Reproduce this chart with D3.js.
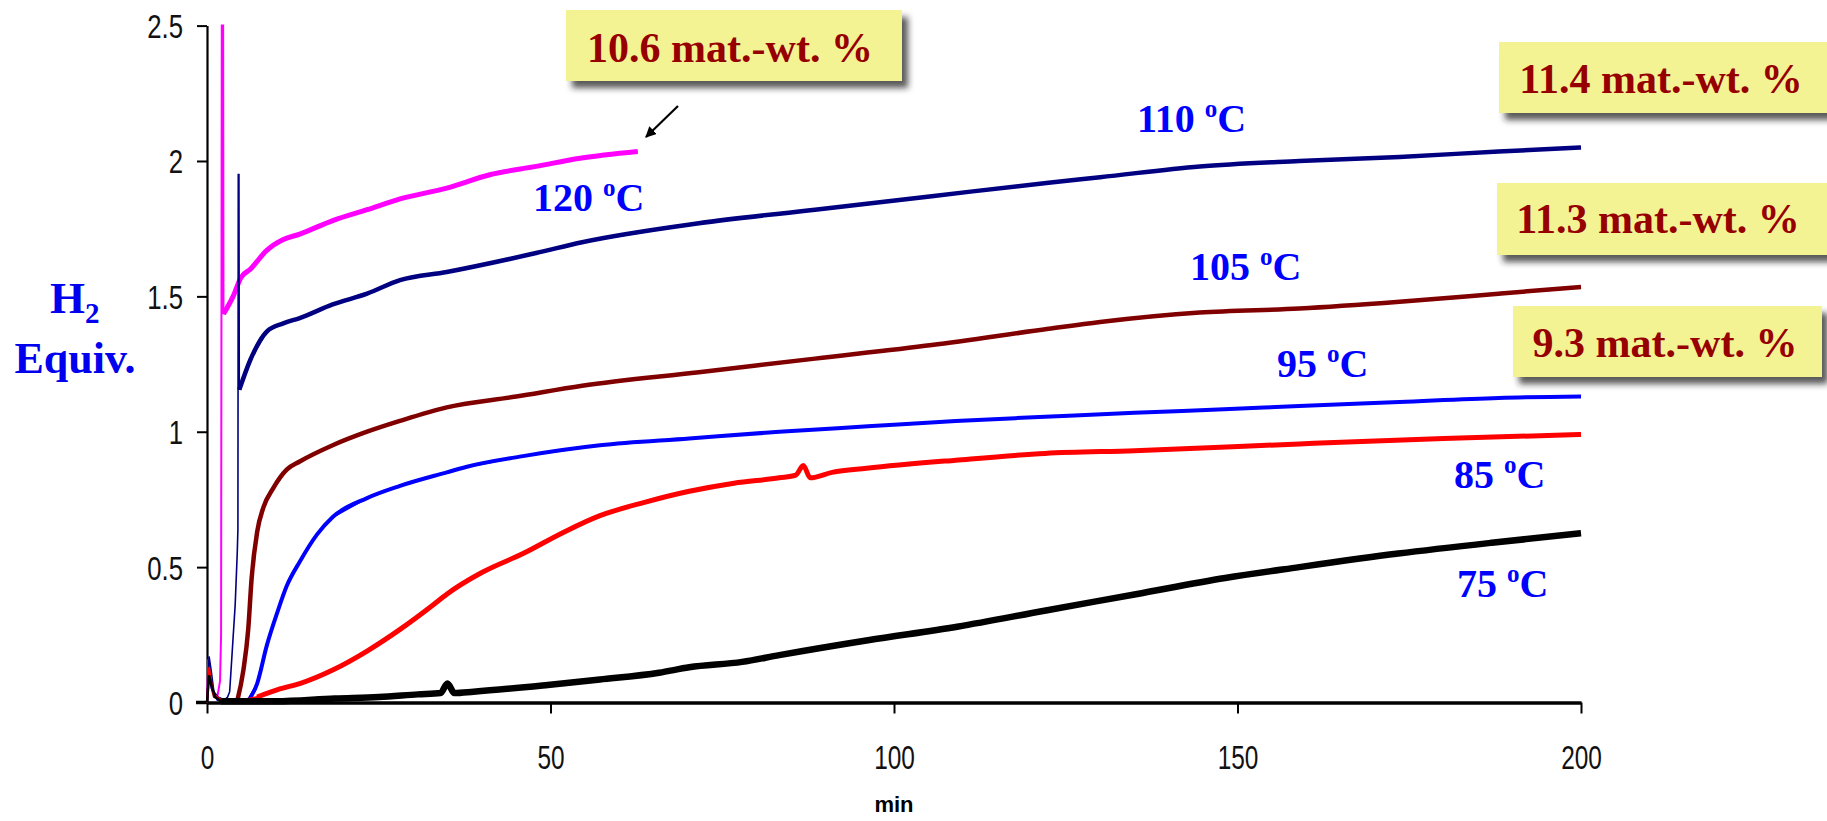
<!DOCTYPE html>
<html><head><meta charset="utf-8">
<script src="https://cdn.jsdelivr.net/npm/d3@7"></script>
<style>html,body{margin:0;padding:0;background:#fff;}svg{display:block;}</style>
</head><body>
<svg id="chart" width="1827" height="821"></svg>
<script>
// ---- data ----
const xTicks = [0, 50, 100, 150, 200];
const yTicks = [0, 0.5, 1, 1.5, 2, 2.5];
const yTickLabels = ["0", "0.5", "1", "1.5", "2", "2.5"];
const xLabel = "min";

const s120 = [[0,0],[0.2,0.16],[0.5,0.1],[0.9,0.04],[1.5,0.02],[1.9,0.08],[2.05,0.25],[2.15,2.5],[2.35,2.5],[2.4,1.435],[3.8,1.50],[4.95,1.57],[6.3,1.60],[8.7,1.67],[11.1,1.71],[13.5,1.73],[18.3,1.78],[23.3,1.82],[28.1,1.86],[34.9,1.90],[41.3,1.95],[47.9,1.98],[54.3,2.01],[62.7,2.035]];
const s110 = [[0,0],[0.3,0.17],[0.6,0.12],[1.0,0.04],[1.6,0.02],[2.5,0.01],[3.0,0.02],[3.3,0.04],[3.6,0.16],[3.8,0.24],[4.1,0.36],[4.4,0.55],[4.5,0.64],[4.55,1.95],[4.65,1.95],[4.7,1.155],[6.3,1.265],[8.7,1.37],[11.1,1.40],[13.5,1.42],[18.3,1.47],[23.3,1.51],[28.1,1.56],[34.9,1.59],[47.9,1.66],[54.6,1.70],[71.6,1.77],[88.5,1.82],[105.5,1.87],[122.5,1.92],[130,1.94],[144.5,1.98],[159,2.0],[173.6,2.015],[188,2.035],[200,2.05]];
const s105 = [[0,0],[0.3,0.1],[0.6,0.06],[1.0,0.02],[2,0.01],[3.5,0.005],[4.4,0.005],[5.3,0.12],[6.0,0.27],[6.5,0.46],[7.3,0.63],[8.2,0.72],[9.6,0.79],[11.6,0.86],[13.5,0.89],[18.3,0.95],[23.3,1.0],[28.1,1.04],[34.9,1.09],[45,1.13],[54.6,1.17],[71.6,1.22],[88.5,1.27],[105.5,1.32],[122.5,1.38],[130,1.405],[144.5,1.44],[159,1.455],[173.6,1.48],[188,1.51],[200,1.535]];
const s95 = [[0,0],[0.3,0.12],[0.7,0.05],[1.5,0.01],[4,0],[5.8,0],[7.3,0.07],[8.7,0.21],[10.2,0.33],[11.6,0.43],[13.5,0.52],[16,0.62],[18.3,0.685],[23.3,0.755],[28.1,0.80],[34.9,0.85],[37.7,0.87],[46,0.91],[57.2,0.95],[70.2,0.975],[83.3,1.0],[96.2,1.02],[109,1.04],[122,1.055],[135,1.07],[148,1.083],[159,1.095],[173.6,1.11],[188,1.125],[200,1.13]];
const s85 = [[0,0],[0.3,0.13],[0.6,0.08],[1.0,0.03],[2,0.01],[4,0.005],[7.3,0.02],[10.6,0.05],[13.5,0.07],[18.3,0.12],[23.3,0.19],[28.1,0.27],[32.9,0.36],[34.9,0.40],[40,0.48],[46,0.55],[52,0.63],[57.2,0.69],[63.8,0.74],[70.2,0.78],[76.7,0.81],[83.3,0.83],[85.7,0.84],[86.8,0.875],[87.8,0.83],[91,0.85],[96,0.865],[109,0.895],[122,0.92],[135,0.93],[159,0.955],[180,0.975],[200,0.99]];
const s75 = [[0,0],[0.3,0.1],[0.7,0.06],[1.2,0.02],[2,0.005],[10,0.005],[18.6,0.015],[25,0.02],[30.7,0.03],[34,0.035],[35,0.07],[36,0.035],[38.8,0.04],[49.6,0.065],[57.2,0.085],[65.8,0.11],[70.2,0.13],[77.9,0.15],[83.3,0.175],[96.2,0.23],[109.2,0.28],[122.1,0.34],[135.2,0.40],[148.2,0.46],[159,0.50],[173.4,0.55],[187,0.59],[200,0.625]];

const seriesNames = ["120 ºC", "110 ºC", "105 ºC", "95 ºC", "85 ºC", "75 ºC"];
const seriesData = [s120, s110, s105, s95, s85, s75];
const boxTexts = ["10.6 mat.-wt. %", "11.4 mat.-wt. %", "11.3 mat.-wt. %", "9.3 mat.-wt. %"];

// ---- styles / layout ----
const colors = ["#ff00ff", "#000080", "#800000", "#0000ff", "#ff0000", "#000000"];
const thinW = [2, 1.6, 2, 2, 2, 2.5];
const thickW = [5, 4.5, 4.5, 4, 5, 6.5];
const thickFrom = [2.38, 4.68, 4.4, 5.5, 5, 2];
const labelPos = [[533, 211], [1137, 132], [1190, 280], [1277, 377], [1454, 488], [1457, 597]];
const boxPos = [[566, 10, 902, 81, 730, 62], [1499, 42, 1850, 113, 1661, 93], [1497, 183, 1850, 255, 1658, 233], [1513, 306, 1822, 377, 1665, 357]];

const svg = d3.select("#chart");
svg.append("rect").attr("width", 1827).attr("height", 821).attr("fill", "#fff");

const defs = svg.append("defs");
const f = defs.append("filter").attr("id", "shadow").attr("x", "-10%").attr("y", "-10%").attr("width", "130%").attr("height", "140%");
f.append("feDropShadow").attr("dx", 6).attr("dy", 7).attr("stdDeviation", 3).attr("flood-color", "#222").attr("flood-opacity", 0.75);
const mk = defs.append("marker").attr("id", "arrowhead").attr("viewBox", "0 0 10 10").attr("refX", 9).attr("refY", 5)
  .attr("markerWidth", 5).attr("markerHeight", 5).attr("orient", "auto");
mk.append("path").attr("d", "M0,0 L10,5 L0,10 z").attr("fill", "#000");

const x = d3.scaleLinear().domain([0, 200]).range([207, 1581]);
const y = d3.scaleLinear().domain([0, 2.5]).range([702.5, 25.6]);

defs.append("clipPath").attr("id", "plotclip").append("rect")
  .attr("x", 205).attr("y", 24).attr("width", 1390).attr("height", 682);

// axes
const yAxis = d3.axisLeft(y).tickValues(yTicks).tickFormat((d, i) => yTickLabels[i]).tickSize(10).tickSizeOuter(0);
const gy = svg.append("g").attr("transform", "translate(207,0)").call(yAxis);
gy.select(".domain").attr("stroke", "#000").attr("stroke-width", 2.2);
gy.selectAll(".tick line").attr("stroke", "#000").attr("stroke-width", 2);
gy.selectAll(".tick text").attr("x", 0).attr("dy", "0.36em")
  .attr("transform", "translate(-24,0) scale(0.78,1)")
  .attr("text-anchor", "end")
  .style("font-family", "'Liberation Sans', Arial, sans-serif").style("font-size", "33px").attr("fill", "#111");

const xAxis = d3.axisBottom(x).tickValues(xTicks).tickFormat(d3.format("d")).tickSize(11).tickSizeOuter(0);
const gx = svg.append("g").attr("transform", "translate(0,702.5)").call(xAxis);
gx.select(".domain").attr("stroke", "#000").attr("stroke-width", 3.5);
gx.selectAll(".tick line").attr("stroke", "#000").attr("stroke-width", 2);
gx.selectAll(".tick text").attr("y", 0).attr("dy", 0)
  .attr("transform", "translate(0,66) scale(0.74,1)")
  .attr("text-anchor", "middle")
  .style("font-family", "'Liberation Sans', Arial, sans-serif").style("font-size", "33px").attr("fill", "#111");
svg.append("line").attr("x1", 196).attr("x2", 208).attr("y1", y(0)).attr("y2", y(0)).attr("stroke", "#000").attr("stroke-width", 3.5);

svg.append("text").attr("x", x(100)).attr("y", 812).attr("text-anchor", "middle")
  .style("font-family", "'Liberation Sans', Arial, sans-serif").style("font-weight", "bold").style("font-size", "22px")
  .text(xLabel);

// y label
const yl = svg.append("g").style("font-family", "'Liberation Serif', 'Times New Roman', serif").style("font-weight", "bold").attr("fill", "#0000ee");
const h2 = yl.append("text").attr("x", 50).attr("y", 313).style("font-size", "45px");
h2.append("tspan").text("H");
h2.append("tspan").attr("dy", 10).style("font-size", "29px").text("2");
yl.append("text").attr("x", 75).attr("y", 373).attr("text-anchor", "middle").style("font-size", "44px").text("Equiv.");

// lines
const lineThin = d3.line().x(d => x(d[0])).y(d => y(d[1])).curve(d3.curveLinear);
const lineThick = d3.line().x(d => x(d[0])).y(d => y(d[1])).curve(d3.curveMonotoneX);
const plot = svg.append("g").attr("clip-path", "url(#plotclip)");
seriesData.forEach((data, i) => {
  plot.append("path").datum(data).attr("d", lineThin).attr("fill", "none")
    .attr("stroke", colors[i]).attr("stroke-width", thinW[i]).attr("stroke-linejoin", "miter");
  plot.append("path").datum(data.filter(d => d[0] >= thickFrom[i])).attr("d", lineThick).attr("fill", "none")
    .attr("stroke", colors[i]).attr("stroke-width", thickW[i]).attr("stroke-linejoin", "round");
});

// temperature labels
seriesNames.forEach((name, i) => {
  const parts = name.split(" ");
  const t = svg.append("text").attr("x", labelPos[i][0]).attr("y", labelPos[i][1])
    .style("font-family", "'Liberation Serif', 'Times New Roman', serif").style("font-weight", "bold")
    .style("font-size", "40px").attr("fill", "#0000ff");
  t.append("tspan").text(parts[0] + " ");
  t.append("tspan").attr("dy", -15).style("font-size", "25px").text("o");
  t.append("tspan").attr("dy", 15).text(parts[1].replace("º", ""));
});

// annotation boxes
boxTexts.forEach((txt, i) => {
  const b = boxPos[i];
  svg.append("rect").attr("x", b[0]).attr("y", b[1]).attr("width", b[2] - b[0]).attr("height", b[3] - b[1])
    .attr("fill", "#f3f394").attr("filter", "url(#shadow)");
  svg.append("text").attr("x", b[4]).attr("y", b[5]).attr("text-anchor", "middle")
    .style("font-family", "'Liberation Serif', 'Times New Roman', serif").style("font-weight", "bold")
    .style("font-size", "42px").attr("fill", "#960000").text(txt);
});

// arrow pointing to the end of the 120 ºC curve
svg.append("line").attr("x1", 678).attr("y1", 106).attr("x2", 646).attr("y2", 137)
  .attr("stroke", "#000").attr("stroke-width", 2.2).attr("marker-end", "url(#arrowhead)");
</script>
</body></html>
